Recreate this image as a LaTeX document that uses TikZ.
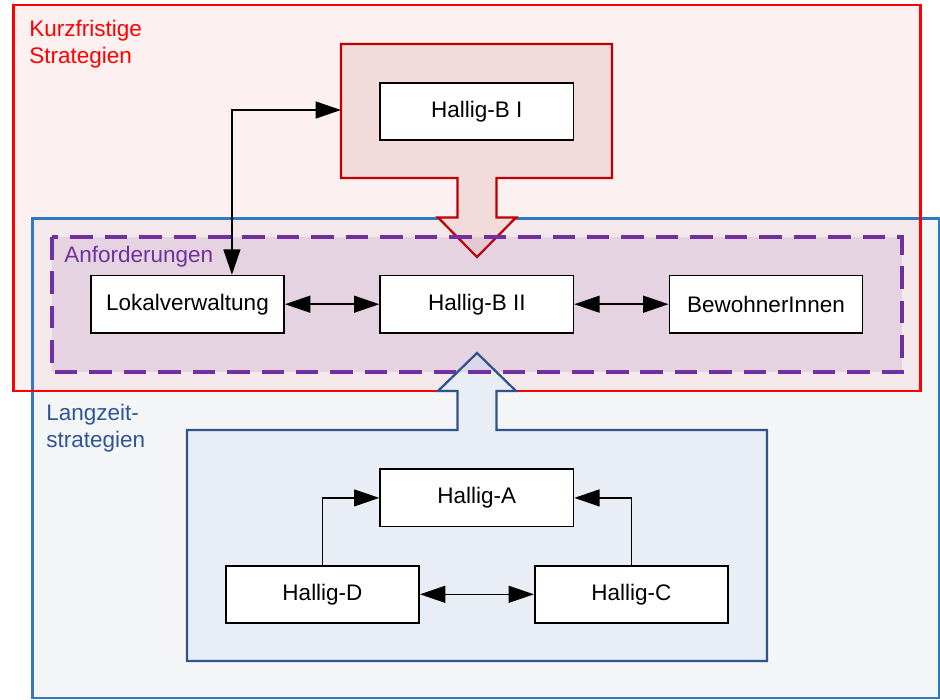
\documentclass[tikz,border=0pt]{standalone}
\usepackage{fontspec}
\setmainfont{Liberation Sans}
\usetikzlibrary{arrows.meta}
\definecolor{rotrand}{HTML}{FF0000}
\definecolor{kurzfill}{HTML}{FDF0F0}
\definecolor{langrand}{HTML}{2E7AC4}
\definecolor{langfill}{HTML}{F4F5F7}
\definecolor{mischfill}{HTML}{F5E8EA}
\definecolor{pfeilrot}{HTML}{C00000}
\definecolor{pfeilrotfill}{HTML}{F2DCDB}
\definecolor{pfeilblau}{HTML}{2E5489}
\definecolor{pfeilblaufill}{HTML}{E9EDF5}
\definecolor{lila}{HTML}{7030A0}
\definecolor{langtext}{HTML}{2F5597}
\begin{document}
\begin{tikzpicture}[x=0.025cm,y=-0.025cm]
          \tikzstyle{every node}=[font=\fontsize{16}{19}\selectfont];
          \tikzstyle{box}=[draw,fill=white,line width=1.2pt,minimum width=4.83cm,minimum height=1.43cm,inner sep=0pt];
          \tikzstyle{pfeil}=[line width=1.1pt,-{Triangle[length=18pt,width=12pt]}];
          \tikzstyle{doppel}=[line width=1.1pt,{Triangle[length=18pt,width=12pt]}-{Triangle[length=18pt,width=12pt]}];
          \useasboundingbox (0,0) rectangle (940,699);
          %Flaechen
          \fill[kurzfill] (13.5,5) rectangle (920.5,391);
          \fill[langfill] (32.5,218.5) rectangle (939,698);
          \begin{scope}
            \clip (13.5,5) rectangle (920.5,391);
            \fill[mischfill] (32.5,218.5) rectangle (939,698);
          \end{scope}
          \draw[langrand,line width=1.7pt] (32.5,218.5) rectangle (939,698);
          \draw[rotrand,line width=2.1pt] (13.5,5) rectangle (920.5,391);
          %Blockpfeile
          \draw[pfeilrot,fill=pfeilrotfill,line width=1.6pt] (341,44) -- (612,44) -- (612,178) -- (496.5,178) -- (496.5,217.5)
            -- (516,217.5) -- (477,257) -- (438,217.5) -- (457.5,217.5) -- (457.5,178) -- (341,178) -- cycle;
          \draw[pfeilblau,fill=pfeilblaufill,line width=1.6pt] (187,661) -- (767,661) -- (767,430) -- (496.5,430) -- (496.5,391)
            -- (516,391) -- (477,353) -- (438,391) -- (457.5,391) -- (457.5,430) -- (187,430) -- cycle;
          %Anforderungen
          \fill[lila,fill opacity=0.11] (52,237) rectangle (902,372);
          \draw[lila,line width=2.2pt,dash pattern=on 16pt off 8.5pt] (52,237) rectangle (902,372);
          %Texte
          \node[rotrand,anchor=north west,inner sep=0pt,align=left] (kurz) at (29,20) {Kurzfristige\\Strategien};
          \node[langtext,anchor=north west,inner sep=0pt,align=left] (lang) at (46,404) {Langzeit-\\strategien};
          \node[lila,anchor=base west,inner sep=0pt] (anf) at (64,262) {Anforderungen};
          %Kaesten
          \node[box] (B1) at (476.8,111.3) {Hallig-B I};
          \node[box] (L) at (187.5,304.2) {Lokalverwaltung};
          \node[box] (B2) at (476.8,304.2) {Hallig-B II};
          \node[box] (BW) at (766,304.2) {BewohnerInnen};
          \node[box] (A) at (476.8,497.9) {Hallig-A};
          \node[box] (D) at (322.5,594.3) {Hallig-D};
          \node[box] (C) at (631.4,594.3) {Hallig-C};
          \coordinate (BP) at (341,110);
          %Verbindungen
          \draw[doppel] ([xshift=1.11cm]L.north) |- (BP);
          \draw[doppel] (L.east) -- (B2.west);
          \draw[doppel] (B2.east) -- (BW.west);
          \draw[pfeil] (D.north) |- (A.west);
          \draw[pfeil] (C.north) |- (A.east);
          \draw[doppel] (D.east) -- (C.west);
      \end{tikzpicture}
\end{document}
